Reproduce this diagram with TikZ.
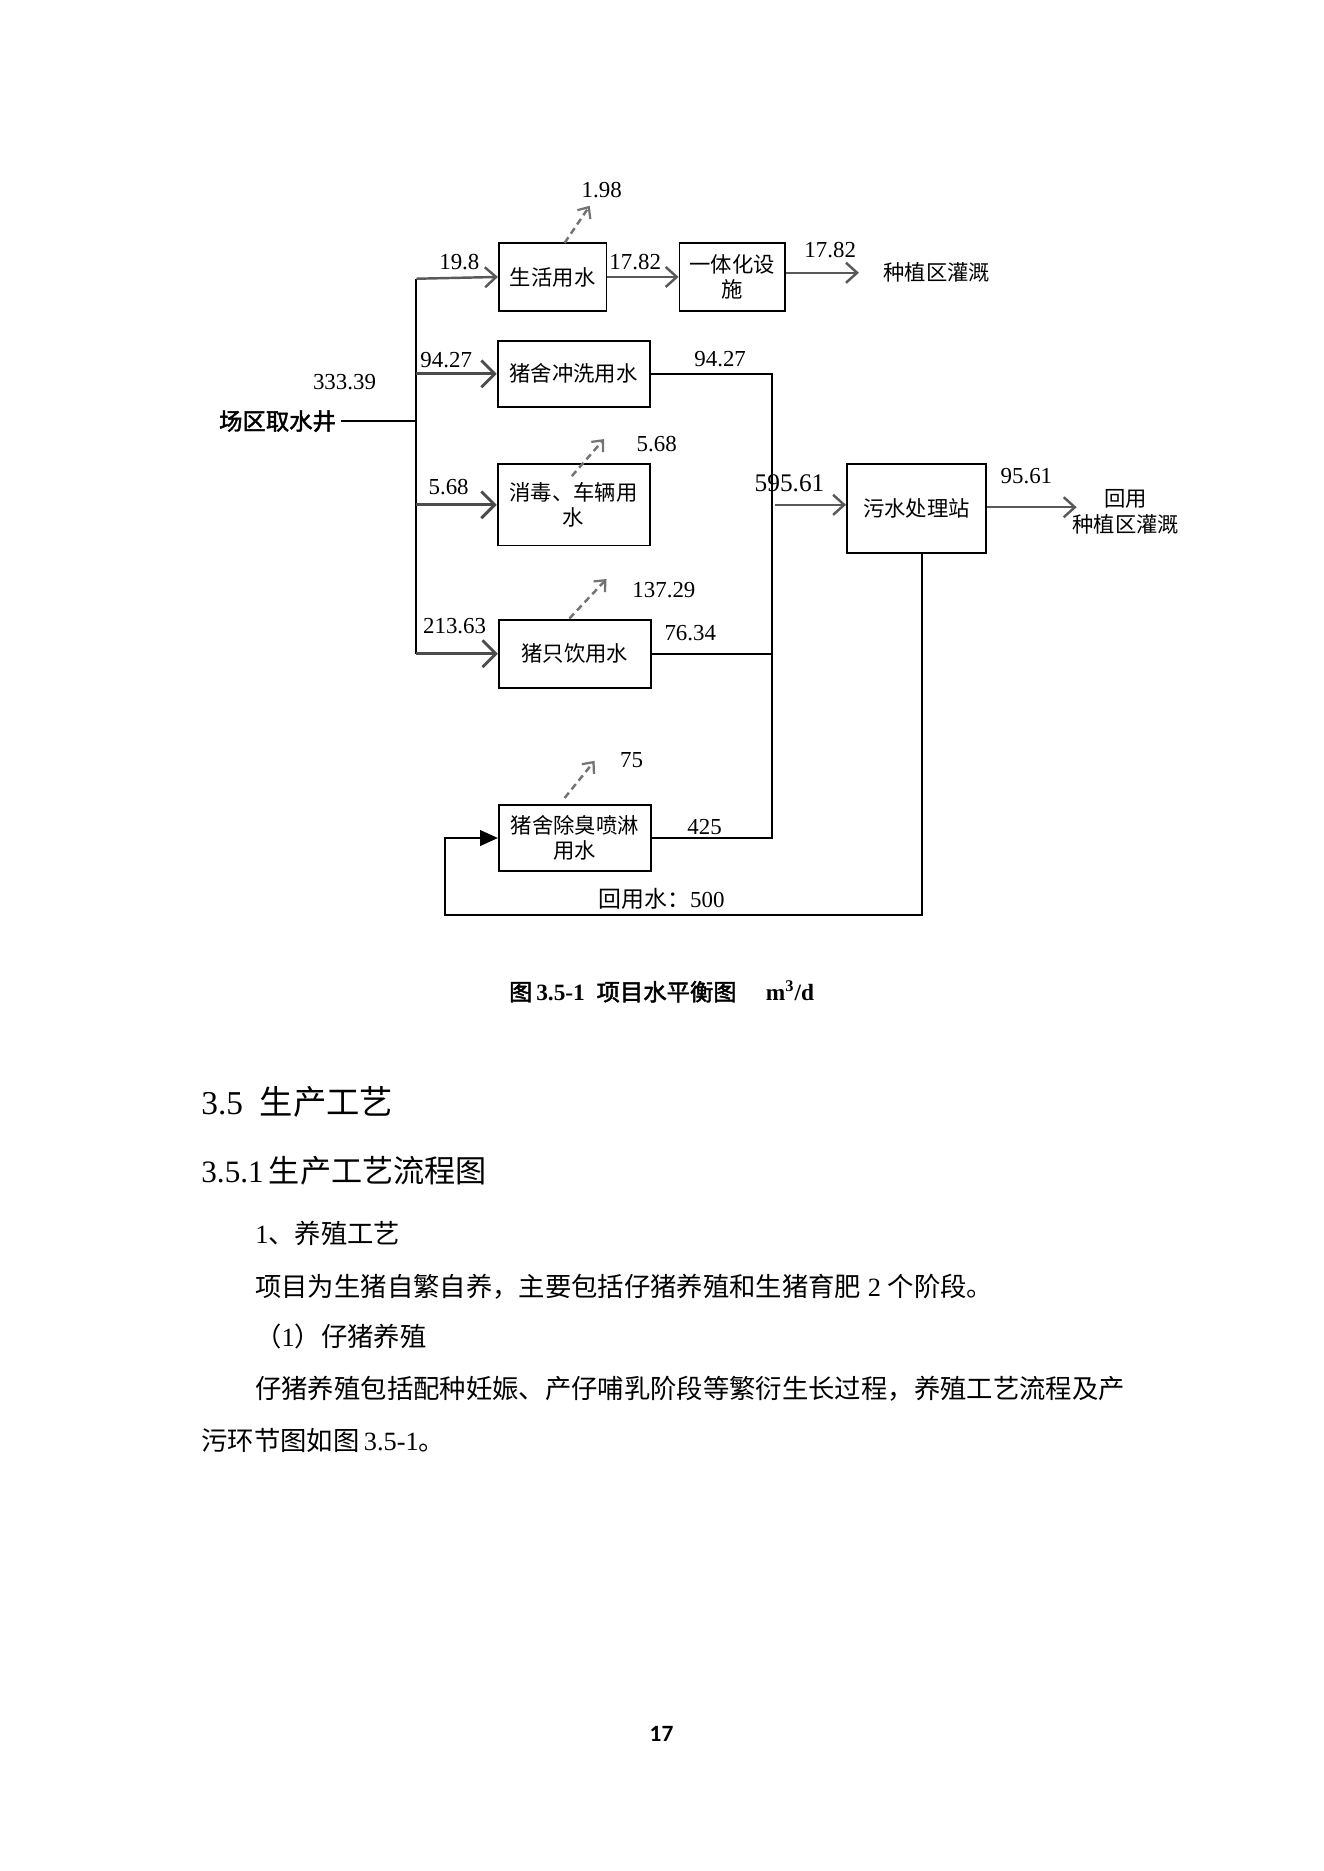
\documentclass[tikz,border=0pt]{standalone}
\usepackage{fontspec}
\setmainfont{Liberation Serif}
\newfontfamily\cjk[AutoFakeBold=2]{Noto Sans CJK SC}
\newfontfamily\pgnumfont{Carlito}
\usetikzlibrary{arrows.meta}
\newcommand{\zht}[1]{{\cjk #1}}
\newcommand{\dfont}{\fontsize{9.6}{11.5}\selectfont}
\newcommand{\nfont}{\fontsize{10.3}{12}\selectfont}
\tikzset{
  box/.style={draw, line width=0.85pt, inner sep=0pt, align=center, font=\dfont\cjk},
  lbl/.style={inner sep=0pt, font=\nfont},
  zlbl/.style={inner sep=0pt, font=\dfont\cjk, align=center},
  conn/.style={draw, line width=0.85pt},
  flow/.style={draw=black!70, line width=1.3pt, -{Straight Barb[length=6pt,width=12pt,line width=1.3pt]}},
  flowthin/.style={draw=black!65, line width=1.1pt, -{Straight Barb[length=5pt,width=9pt,line width=1.1pt]}},
  evap/.style={draw=black!55, line width=1.1pt, dash pattern=on 3pt off 2pt, -{Straight Barb[length=4pt,width=7pt,line width=1pt]}},
  fbarrow/.style={draw, line width=0.85pt, -{Triangle[length=8pt,width=7pt]}},
  body/.style={inner sep=0pt, anchor=west, font=\fontsize{11.85}{14}\selectfont},
}
\begin{document}
\begin{tikzpicture}[x=0.538pt,y=-0.538pt]
\useasboundingbox[fill=white] (0,0) rectangle (1106,1564);

% ---------- boxes ----------
\node[box, minimum width=48.4pt, minimum height=30.7pt] (shl) at (462,231.5) {生活用水};
\node[box, minimum width=47.3pt, minimum height=30.7pt] (yth) at (612,231.5) {一体化设\\施};
\node[box, minimum width=68.3pt, minimum height=29.6pt] (chx) at (479.5,312.5) {猪舍冲洗用水};
\node[box, minimum width=68.3pt, minimum height=36.6pt] (xd) at (479.5,422) {消毒、车辆用\\水};
\node[box, minimum width=68.3pt, minimum height=30.7pt] (yy) at (480.5,546.5) {猪只饮用水};
\node[box, minimum width=68.3pt, minimum height=29.6pt] (ccs) at (480.5,700.5) {猪舍除臭喷淋\\用水};
\node[box, minimum width=62.4pt, minimum height=39.8pt] (ws) at (766,425) {污水处理站};

% ---------- source ----------
\node[inner sep=0pt, font=\fontsize{10.5}{12}\selectfont\cjk\bfseries] (src) at (232,352) {场区取水井};
\coordinate (ttop) at (348,233);
\coordinate (tbot) at (348,547);
\draw[conn] (ttop) -- (tbot);
\draw[conn] ([xshift=2pt]src.east) -- (src.east -| ttop);

% branches
\draw[flowthin] (ttop) -- (shl.west);
\draw[flow] (chx.west -| ttop) -- (chx.west);
\draw[flow] (xd.west -| ttop) -- (xd.west);
\draw[flow] (yy.west -| ttop) -- (yy.west);

% ---------- outputs top row ----------
\draw[flowthin] (shl.east) -- (yth.west);
\node[zlbl] (zz1) at (783,228) {种植区灌溉};
\coordinate (zz1end) at (718,228);
\draw[flowthin] (yth.east |- zz1end) -- (zz1end);

% ---------- collector ----------
\coordinate (cx) at (645,0);
\draw[conn] (chx.east) -- (chx.east -| cx) -- (ccs.east -| cx) -- (ccs.east);
\draw[conn] (yy.east) -- (yy.east -| cx);
\coordinate (wsin) at (648,422);
\draw[flowthin] (wsin) -- (wsin -| ws.west);

% ---------- sewage outputs ----------
\coordinate (wsout) at (900,424);
\draw[flowthin] (ws.east |- wsout) -- (wsout);
\node[zlbl] (reuse) at (941,428) {回用\\种植区灌溉};

% feedback loop
\coordinate (fb) at (372,765);
\draw[fbarrow] ([xshift=2.7pt]ws.south) |- (fb) |- (ccs.west);

% ---------- evaporation (dashed) ----------
\coordinate (e1a) at (472,203); \coordinate (e1b) at (493,172);
\coordinate (e2a) at (478,398); \coordinate (e2b) at (505,367);
\coordinate (e3a) at (476,517); \coordinate (e3b) at (507,484);
\coordinate (e4a) at (472,667); \coordinate (e4b) at (497,636);
\draw[evap] (e1a) -- (e1b);
\draw[evap] (e2a) -- (e2b);
\draw[evap] (e3a) -- (e3b);
\draw[evap] (e4a) -- (e4b);

% ---------- number labels ----------
\node[lbl] (n1) at (503,159) {1.98};
\node[lbl] (n2) at (384,219) {19.8};
\node[lbl] (n3) at (531,219) {17.82};
\node[lbl] (n4) at (694,209) {17.82};
\node[lbl] (n5) at (288,319) {333.39};
\node[lbl] (n6) at (373,301) {94.27};
\node[lbl] (n7) at (602,300) {94.27};
\node[lbl] (n8) at (549,371) {5.68};
\node[lbl] (n9) at (375,407) {5.68};
\node[lbl] (n10) at (555,493) {137.29};
\node[lbl] (n11) at (380,523) {213.63};
\node[lbl] (n12) at (577,529) {76.34};
\node[inner sep=0pt, font=\fontsize{11.4}{13}\selectfont] (n13) at (660,404) {595.61};
\node[lbl] (n14) at (858,398) {95.61};
\node[lbl] (n15) at (528,635) {75};
\node[lbl] (n16) at (589,691) {425};
\node[lbl] (n17) at (553,751) {\zht{回用水：}500};

% ---------- caption ----------
\node[inner sep=0pt, font=\fontsize{10.5}{12}\selectfont\bfseries] (cap) at (553,829)
  {\zht{图}\,3.5-1\ \ \zht{项目水平衡图}\quad\ m\textsuperscript{3}/d};

% ---------- body text ----------
\node[body, font=\fontsize{15}{18}\selectfont] (h1) at (168,921) {3.5\ \ \zht{生产工艺}};
\node[body, font=\fontsize{14}{17}\selectfont] (h2) at (168,979) {3.5.1\,\zht{生产工艺流程图}};
\node[body] (p1) at (213,1031) {1\zht{、养殖工艺}};
\node[body] (p2) at (213,1076) {\zht{项目为生猪自繁自养，主要包括仔猪养殖和生猪育肥}\ 2\ \zht{个阶段。}};
\node[body] (p3) at (213,1117) {\zht{（}1\zht{）仔猪养殖}};
\node[body] (p4) at (213,1161) {\zht{仔猪养殖包括配种妊娠、产仔哺乳阶段等繁衍生长过程，养殖工艺流程及产}};
\node[body] (p5) at (168,1204) {\zht{污环节图如图}\,3.5-1\zht{。}};

\node[inner sep=0pt, font=\fontsize{10.5}{12}\selectfont\pgnumfont\bfseries] (pg) at (553,1449) {17};
\end{tikzpicture}
\end{document}
